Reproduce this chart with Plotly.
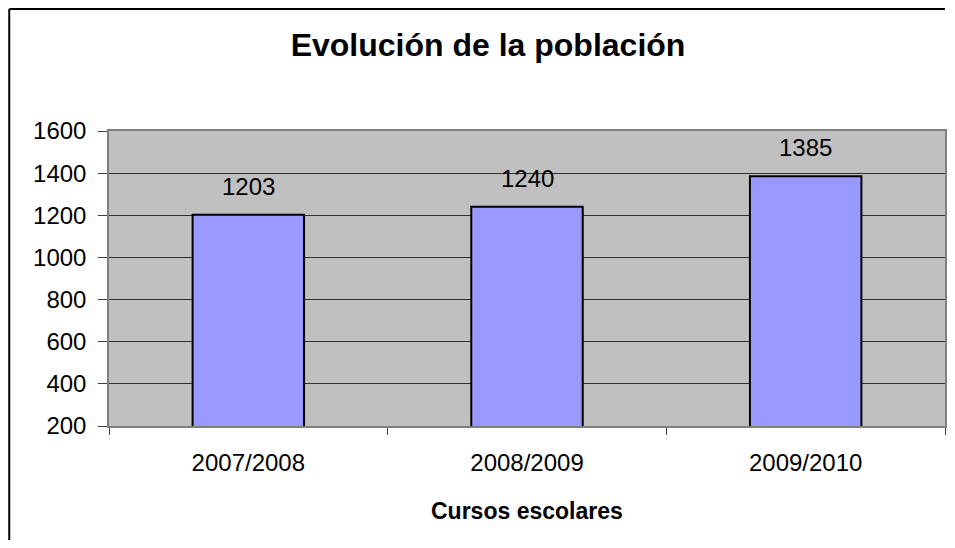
import plotly.graph_objects as go

cursos = ["2007/2008", "2008/2009", "2009/2010"]
poblacion = [1203, 1240, 1385]
y_ticks = [200, 400, 600, 800, 1000, 1200, 1400, 1600]

# the page body has an 8px margin, so the figure is 16px smaller than the window
W, H = 939, 532
L, R, T, B = 101, 0, 123, 114
pw, ph = W - L - R, H - T - B

font = "Liberation Sans, Arial, sans-serif"

fig = go.Figure()
fig.add_trace(go.Bar(
    x=cursos, y=poblacion, width=0.40,
    marker=dict(color="#9999ff", line=dict(color="black", width=2)),
    hoverinfo="x+y",
))

# value labels above the bars
for c, v in zip(cursos, poblacion):
    fig.add_annotation(x=c, y=v, text=str(v), showarrow=False,
                       yanchor="bottom", yshift=13,
                       font=dict(size=24, color="black", family=font))

# x axis title
fig.add_annotation(x=0.5, xref="paper", y=(T + ph - 503) / ph, yref="paper",
                   text="<b>Cursos escolares</b>", showarrow=False,
                   yanchor="middle", font=dict(size=23, color="black", family=font))

# outer chart frame: only its left and top edges fall inside the window
fx0, fx1 = (1 - L) / pw, (W - L) / pw
fy0, fy1 = (T + ph - H) / ph, (T + ph - 1) / ph
fig.add_shape(type="line", xref="paper", yref="paper", x0=fx0, x1=fx0, y0=fy0, y1=fy1,
              line=dict(color="black", width=2), layer="below")
fig.add_shape(type="line", xref="paper", yref="paper", x0=fx0, x1=fx1, y0=fy1, y1=fy1,
              line=dict(color="black", width=2), layer="below")

fig.update_layout(
    width=W, height=H,
    margin=dict(l=L, r=R, t=T, b=B),
    paper_bgcolor="white", plot_bgcolor="#c0c0c0",
    font=dict(family=font, color="black"),
    title=dict(text="<b>Evolución de la población</b>", xref="container", yref="container",
               x=480 / W, y=1 - 37 / H, xanchor="center", yanchor="middle",
               font=dict(size=32, color="black", family=font)),
    showlegend=False, bargap=0.6,
)
fig.update_xaxes(
    showgrid=False, showline=True, linecolor="#808080", linewidth=1.5, mirror=True,
    ticks="outside", tickson="boundaries", ticklen=7, tickcolor="#404040",
    tickfont=dict(size=24), ticklabelstandoff=14,
)
fig.update_yaxes(
    range=[200, 1600], tickvals=y_ticks, showgrid=True, gridcolor="#303030", gridwidth=1,
    showline=True, linecolor="#808080", linewidth=1.5, mirror=True,
    ticks="outside", ticklen=9, tickcolor="#404040", tickfont=dict(size=24),
    ticklabelstandoff=7, zeroline=False,
)

fig.write_html("out.html")
